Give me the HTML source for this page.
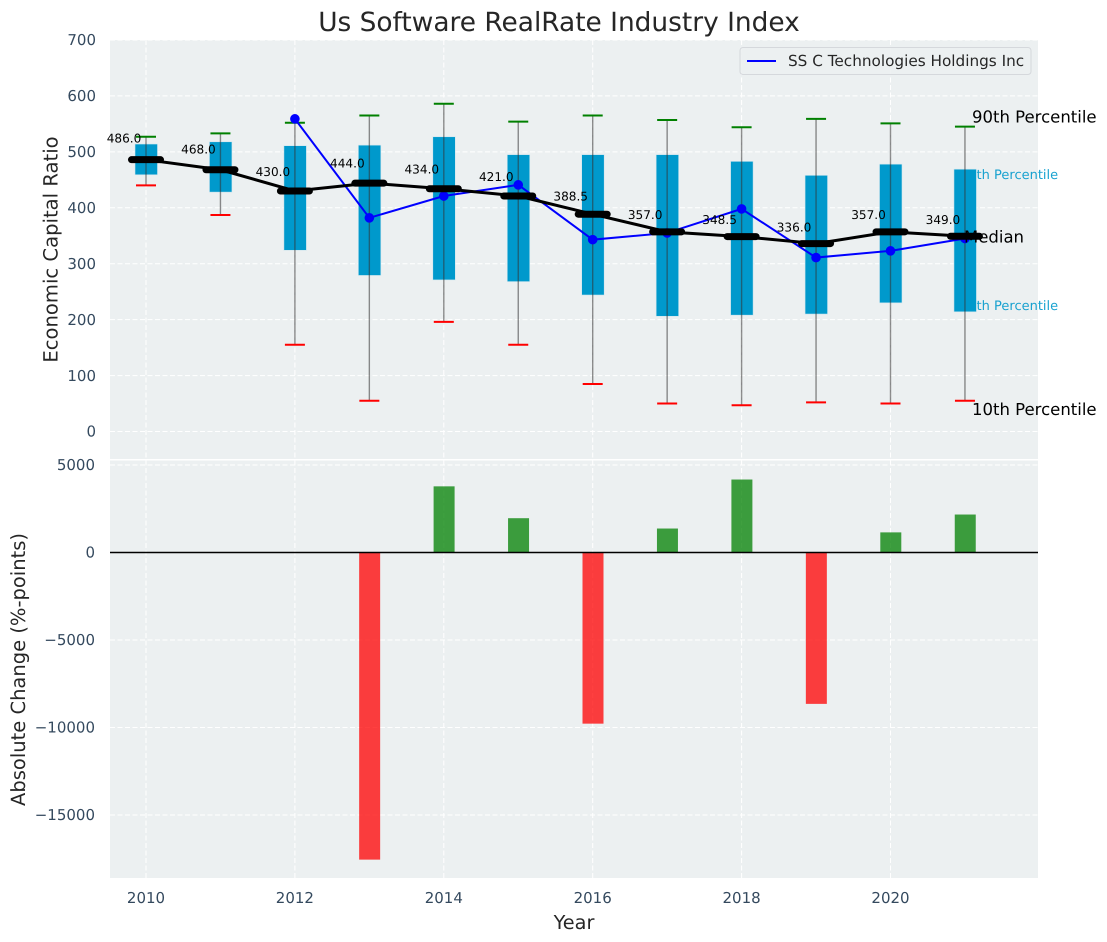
<!DOCTYPE html>
<html>
<head>
<meta charset="utf-8">
<title>Us Software RealRate Industry Index</title>
<style>
html,body{margin:0;padding:0;background:#fff;width:1107px;height:942px;overflow:hidden}
svg{display:block;font-family:"DejaVu Sans","Liberation Sans",sans-serif;text-rendering:geometricPrecision}
</style>
</head>
<body>
<svg id="chart" width="1107" height="942" viewBox="0 0 1107 942" xmlns="http://www.w3.org/2000/svg"></svg>
<script>
const years = [2010, 2011, 2012, 2013, 2014, 2015, 2016, 2017, 2018, 2019, 2020, 2021];
const p90 = [527, 533, 552, 565, 586, 554, 565, 557, 544, 559, 551, 545];
const p75 = [514, 518, 511, 512, 527, 495, 495, 495, 483, 458, 478, 469];
const medians = [486, 468, 430, 444, 434, 421, 388.5, 357, 348.5, 336, 357, 349];
const p25 = [459, 428, 324, 279, 271, 268, 244, 206, 208, 210, 230, 214];
const p10 = [440, 387, 155, 55, 196, 155, 85, 50, 47, 52, 50, 55];
const company = [null, null, 559, 382, 421, 441, 343, 355, 398, 311, 323, 345];
const changes = [null, null, null, -17550, 3780, 1960, -9780, 1370, 4170, -8650, 1150, 2170];
const xTicks = [2010, 2012, 2014, 2016, 2018, 2020];
const topTicks = [0, 100, 200, 300, 400, 500, 600, 700];
const bottomTicks = [5000, 0, -5000, -10000, -15000];
const legendLabel = "SS C Technologies Holdings Inc";

const svg = document.getElementById('chart');
const NS = 'http://www.w3.org/2000/svg';
const plotLeft = 110, plotRight = 1038;
const topAxisTop = 40, topAxisBottom = 459;
const lowAxisTop = 460.5, lowAxisBottom = 878;
const x = v => 146 + (v - 2010) * 74.45;
const yTop = v => 431.5 - v * 0.5593;
const yLow = v => 552.5 - v * 0.01750;

function make(tag, attrs, text) {
  const el = document.createElementNS(NS, tag);
  for (const k in attrs) el.setAttribute(k, attrs[k]);
  if (text !== undefined) el.textContent = text;
  svg.appendChild(el);
  return el;
}
function fmtTick(v) { return v < 0 ? '\u2212' + Math.abs(v) : String(v); }

let el;
el = make('rect', {x: plotLeft, y: topAxisTop, width: plotRight - plotLeft, height: topAxisBottom - topAxisTop, fill: '#ecf0f1'});


el = make('rect', {x: plotLeft, y: lowAxisTop, width: plotRight - plotLeft, height: lowAxisBottom - lowAxisTop, fill: '#ecf0f1'});



const gridStyle = {stroke: '#ffffff', 'stroke-width': 1, 'stroke-dasharray': '5 2.5'};
topTicks.forEach(t => {
  el = make('line', {x1: plotLeft, x2: plotRight, y1: yTop(t), y2: yTop(t), ...gridStyle});
  
  
  el = make('text', {x: 96, y: yTop(t) + 5.2, 'text-anchor': 'end', 'font-size': 15, fill: '#34495e'}, fmtTick(t));
  
  
});
bottomTicks.forEach(t => {
  el = make('line', {x1: plotLeft, x2: plotRight, y1: yLow(t), y2: yLow(t), ...gridStyle});
  
  
  el = make('text', {x: 95, y: yLow(t) + 5.2, 'text-anchor': 'end', 'font-size': 15, fill: '#34495e'}, fmtTick(t));
  
  
});
xTicks.forEach(t => {
  el = make('line', {x1: x(t), x2: x(t), y1: topAxisTop, y2: topAxisBottom, ...gridStyle});
  
  
  el = make('line', {x1: x(t), x2: x(t), y1: lowAxisTop, y2: lowAxisBottom, ...gridStyle});
  
  
  el = make('text', {x: x(t), y: 903, 'text-anchor': 'middle', 'font-size': 15, fill: '#34495e'}, String(t));
  
  
});

/* Percentile labels sit under the last box */
const lastIndex = years.length - 1;
el = make('text', {x: 960, y: yTop(p75[lastIndex]) + 10, 'font-size': 13, fill: '#0099cc', opacity: 0.9}, '75th Percentile');


el = make('text', {x: 960, y: yTop(p25[lastIndex]) - 2, 'font-size': 13, fill: '#0099cc', opacity: 0.9}, '25th Percentile');



/* Interquartile boxes */
years.forEach((yr, i) => {
  el = make('rect', {x: x(yr) - 11, y: yTop(p75[i]), width: 22.5, height: yTop(p25[i]) - yTop(p75[i]), fill: '#0099cc', stroke: '#cfe6ee', 'stroke-width': 0.6});
  
  
});

/* Whiskers and caps */
years.forEach((yr, i) => {
  el = make('line', {x1: x(yr), x2: x(yr), y1: yTop(p90[i]), y2: yTop(p10[i]), stroke: '#333333', 'stroke-width': 1.4, opacity: 0.55});
  
  
  el = make('line', {x1: x(yr) - 10, x2: x(yr) + 10, y1: yTop(p90[i]), y2: yTop(p90[i]), stroke: '#008000', 'stroke-width': 2});
  
  
  el = make('line', {x1: x(yr) - 10, x2: x(yr) + 10, y1: yTop(p10[i]), y2: yTop(p10[i]), stroke: '#ff0000', 'stroke-width': 2});
  
  
});

/* Company series */
const companyPoints = years.map((yr, i) => company[i] === null ? null : x(yr) + ',' + yTop(company[i])).filter(Boolean).join(' ');
el = make('polyline', {points: companyPoints, fill: 'none', stroke: '#0000ff', 'stroke-width': 2});


years.forEach((yr, i) => {
  if (company[i] === null) return;
  el = make('circle', {cx: x(yr), cy: yTop(company[i]), r: 4.8, fill: '#0000ff'});
  
  
});

/* Annotations: Median sits under the median line */
el = make('text', {x: 964, y: yTop(medians[lastIndex]) + 6, 'font-size': 16.5, fill: '#000000'}, 'Median');



/* Median line and markers */
const medianPoints = years.map((yr, i) => x(yr) + ',' + yTop(medians[i])).join(' ');
el = make('polyline', {points: medianPoints, fill: 'none', stroke: '#000000', 'stroke-width': 3});


years.forEach((yr, i) => {
  el = make('line', {x1: x(yr) - 14.5, x2: x(yr) + 14.5, y1: yTop(medians[i]), y2: yTop(medians[i]), stroke: '#000000', 'stroke-width': 7, 'stroke-linecap': 'round'});
  
  
  el = make('text', {x: x(yr) - 22, y: yTop(medians[i]) - 12 - (medians[i] - 336) * 0.033, 'text-anchor': 'middle', 'font-size': 12.1, fill: '#000000'}, medians[i].toFixed(1));
  
  
});

el = make('text', {x: 972, y: yTop(p90[lastIndex]) - 4, 'font-size': 16.5, fill: '#000000'}, '90th Percentile');


el = make('text', {x: 972, y: yTop(p10[lastIndex]) + 14.5, 'font-size': 16.5, fill: '#000000'}, '10th Percentile');



/* Change bars */
years.forEach((yr, i) => {
  if (changes[i] === null) return;
  const v = changes[i];
  el = make('rect', {x: x(yr) - 10.2, y: Math.min(yLow(v), yLow(0)), width: 21, height: Math.abs(yLow(v) - yLow(0)), fill: v < 0 ? '#ff0000' : '#008000', 'fill-opacity': 0.75});
  
  
});
el = make('line', {x1: plotLeft, x2: plotRight, y1: yLow(0), y2: yLow(0), stroke: '#000000', 'stroke-width': 1.4});



/* Legend */
el = make('rect', {x: 740, y: 47.5, width: 291, height: 27, rx: 3, fill: '#ecf0f1', 'fill-opacity': 0.9, stroke: '#d5d8dc', 'stroke-width': 1});


el = make('line', {x1: 747, x2: 776, y1: 61, y2: 61, stroke: '#0000ff', 'stroke-width': 2});


el = make('text', {x: 788, y: 66, 'font-size': 15.25, fill: '#262626'}, legendLabel);



/* Titles */
el = make('text', {x: 559, y: 31, 'text-anchor': 'middle', 'font-size': 26.4, fill: '#262626'}, 'Us Software RealRate Industry Index');


el = make('text', {x: 574, y: 929, 'text-anchor': 'middle', 'font-size': 19.3, fill: '#262626'}, 'Year');


el = make('text', {transform: 'translate(57.5,249.5) rotate(-90)', 'text-anchor': 'middle', 'font-size': 19.6, fill: '#262626'}, 'Economic Capital Ratio');


el = make('text', {transform: 'translate(25,669.5) rotate(-90)', 'text-anchor': 'middle', 'font-size': 19.5, fill: '#262626'}, 'Absolute Change (%-points)');


</script>
</body>
</html>
